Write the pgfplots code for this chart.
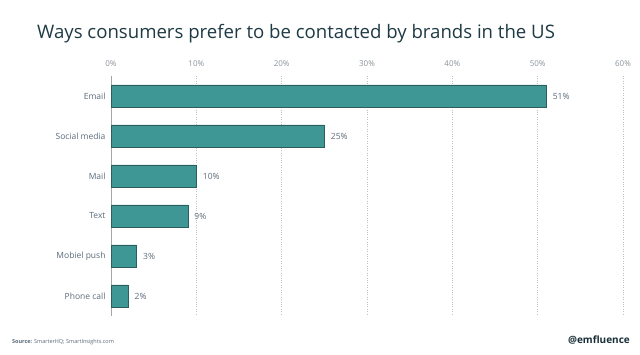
\documentclass[border=0pt]{standalone}
\usepackage{pgfplots}
\pgfplotsset{compat=1.18}
\usepackage{fontspec}
\setmainfont{Open Sans}
\definecolor{barfill}{HTML}{3F9795}
\definecolor{bardraw}{HTML}{2B5E5C}
\definecolor{titlec}{HTML}{1E3A44}
\definecolor{labc}{HTML}{5C6B7A}
\definecolor{tickc}{HTML}{8A939C}
\begin{document}
\begin{tikzpicture}[x=1pt,y=1pt]
\path[use as bounding box] (0,0) rectangle (640,355);
\fill[white] (0,0) rectangle (640,355);
\node[anchor=base west, inner sep=0, font=\fontsize{18.6}{22}\selectfont, text=titlec] at (37,316) {Ways consumers prefer to be contacted by brands in the US};
\begin{axis}[
  at={(111pt,39pt)}, anchor=south west,
  scale only axis, width=512pt, height=240pt,
  xbar, bar width=22pt,
  xmin=0, xmax=60, ymin=-0.5, ymax=5.5, y dir=reverse,
  xtick={0,10,...,60},
  xticklabel={\pgfmathprintnumber{\tick}\%},
  xticklabel pos=top,
  ytick={0,...,5},
  yticklabels={Email,Social media,Mail,Text,Mobiel push,Phone call},
  axis x line*=top, axis y line*=left,
  x axis line style={draw=none},
  y axis line style={draw=gray!70, line width=0.8pt},
  major tick length=0pt,
  xmajorgrids, grid style={dotted, gray!50},
  /pgf/number format/assume math mode=true,
  x tick label style={font=\fontsize{8}{10}\selectfont, text=tickc, yshift=6pt},
  y tick label style={font=\fontsize{8.5}{10}\selectfont, text=labc, xshift=-2pt},
  nodes near coords={\pgfmathprintnumber{\pgfplotspointmeta}\%},
  nodes near coords style={font=\fontsize{8.5}{10}\selectfont, text=labc, xshift=3pt},
  clip=false,
]
\addplot[fill=barfill, draw=bardraw, line width=0.6pt] coordinates {(51,0) (25,1) (10,2) (9,3) (3,4) (2,5)};
\end{axis}
\node[anchor=base west, inner sep=0, font=\fontsize{5.5}{6}\selectfont, text=labc] at (12,11) {\textbf{Source:} SmarterHQ; SmartInsights.com};
\node[anchor=base east, inner sep=0, font=\fontsize{10}{12}\selectfont\bfseries, text=titlec!80!black] at (630,11) {@emfluence};
\end{tikzpicture}
\end{document}
